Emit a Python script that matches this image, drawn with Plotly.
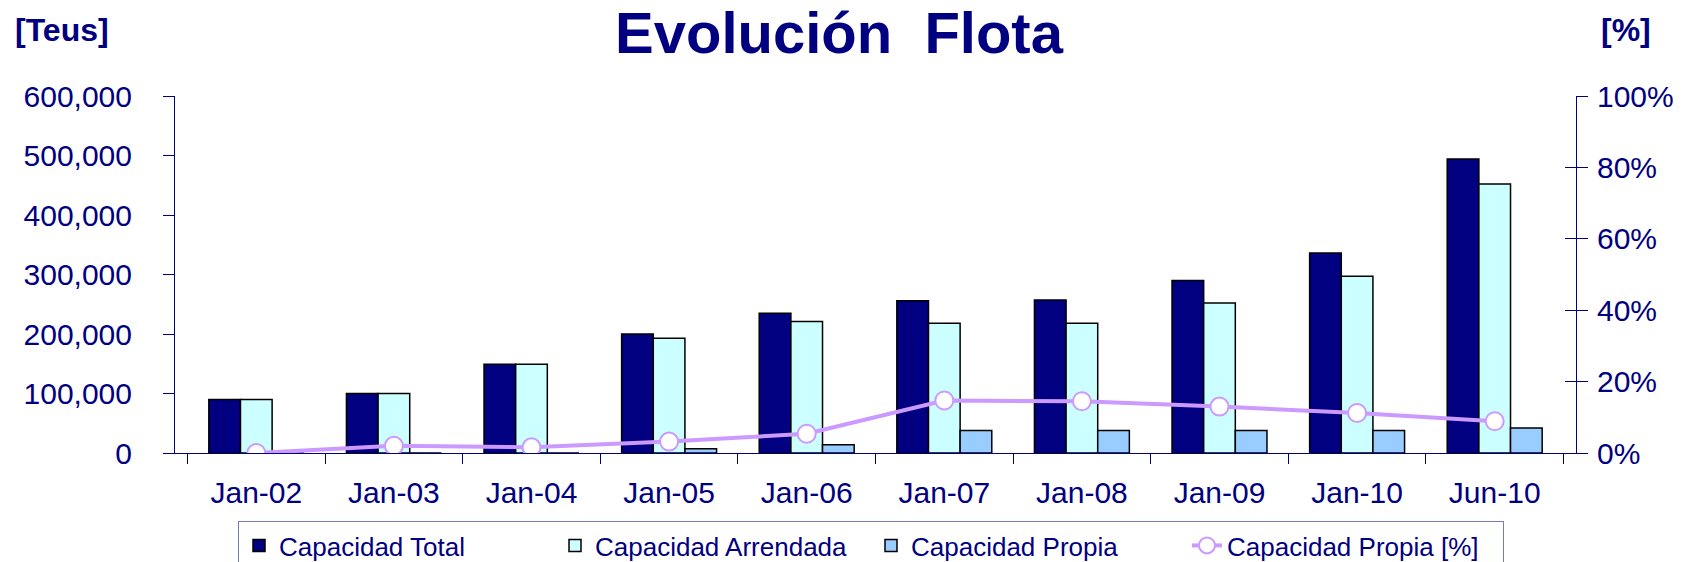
import plotly.graph_objects as go

categories = ["Jan-02", "Jan-03", "Jan-04", "Jan-05", "Jan-06", "Jan-07", "Jan-08", "Jan-09", "Jan-10", "Jun-10"]
cap_total = [90000, 100000, 149000, 200000, 235000, 256000, 257000, 290000, 336000, 494000]
cap_arrendada = [90000, 100000, 149000, 193000, 221000, 218000, 218000, 252000, 297000, 452000]
cap_propia = [0, 0, 0, 7000, 14000, 38000, 38000, 38000, 38000, 42000]
cap_propia_pct = [0.0, 0.02, 0.016, 0.032, 0.054, 0.147, 0.145, 0.13, 0.112, 0.089]

NAVY = "#000080"
FONT = "Liberation Sans, Arial, sans-serif"
W, H = 1686, 562
L, R, T, B = 167, 118, 88, 116.5
PH = H - T - B
PW = W - L - R

fig = go.Figure()
fig.add_trace(go.Bar(x=categories, y=cap_total, name="Capacidad Total",
                     marker=dict(color="#000080", line=dict(color="black", width=1.5))))
fig.add_trace(go.Bar(x=categories, y=cap_arrendada, name="Capacidad Arrendada",
                     marker=dict(color="#CCFFFF", line=dict(color="black", width=1.5))))
fig.add_trace(go.Bar(x=categories, y=cap_propia, name="Capacidad Propia",
                     marker=dict(color="#99CCFF", line=dict(color="black", width=1.5))))
fig.add_trace(go.Scatter(x=categories, y=cap_propia_pct, name="Capacidad Propia [%]", yaxis="y2",
                         mode="lines+markers",
                         line=dict(color="#CC99FF", width=4),
                         marker=dict(symbol="circle", size=18, color="white",
                                     line=dict(color="#CC99FF", width=2))))
# invisible helper so the crossing-tick axis renders
fig.add_trace(go.Scatter(x=[categories[0]], y=[None], yaxis="y3", showlegend=False, hoverinfo="skip"))

fig.update_layout(
    width=W, height=H,
    margin=dict(l=L, r=R, t=T, b=B, autoexpand=False),
    paper_bgcolor="white", plot_bgcolor="white",
    font=dict(family=FONT, color=NAVY),
    barmode="group", bargap=0.31, bargroupgap=0,
    title=dict(text="<b>Evolución\u00a0 Flota</b>", x=831 / W, xanchor="center",
               y=1, yanchor="top", yref="container", pad=dict(t=4),
               font=dict(size=58, color=NAVY, family=FONT)),
    xaxis=dict(type="category", showline=True, linecolor=NAVY, linewidth=1,
               ticks="outside", ticklen=10, tickcolor=NAVY, tickson="boundaries",
               tickfont=dict(size=30, color=NAVY), ticklabelstandoff=13,
               showgrid=False, zeroline=False),
    yaxis=dict(range=[0, 600000], dtick=100000, tickformat=",", showline=True,
               linecolor=NAVY, linewidth=1, ticks="outside", ticklen=11, tickcolor=NAVY,
               tickfont=dict(size=30, color=NAVY), ticklabelstandoff=25,
               showgrid=False, zeroline=False),
    yaxis2=dict(range=[0, 1], dtick=0.2, tickformat=".0%", overlaying="y", side="right",
                anchor="x", showline=True, linecolor=NAVY, linewidth=1,
                ticks="outside", ticklen=11, tickcolor=NAVY,
                tickfont=dict(size=30, color=NAVY), ticklabelstandoff=3,
                showgrid=False, zeroline=False),
    yaxis3=dict(range=[0, 1], dtick=0.2, overlaying="y", side="right", anchor="x",
                showline=False, ticks="inside", ticklen=11, tickcolor=NAVY,
                showticklabels=False, showgrid=False, zeroline=False),
    legend=dict(orientation="h", xref="container", x=230 / W, xanchor="left",
                yref="container", y=1 - 513 / H, yanchor="top",
                bordercolor="#7878BC", borderwidth=1,
                font=dict(size=26, color=NAVY, family=FONT),
                entrywidth=271, traceorder="normal"),
    annotations=[
        dict(text="<b>[Teus]</b>", xref="paper", yref="paper", x=-162 / PW, xanchor="left",
             y=1 + (T - 22) / PH, yanchor="middle", showarrow=False,
             font=dict(size=32, color=NAVY, family=FONT)),
        dict(text="<b>[%]</b>", xref="paper", yref="paper", x=1 + (1618 - (W - R)) / PW,
             xanchor="center", y=1 + (T - 22) / PH, yanchor="middle", showarrow=False,
             font=dict(size=32, color=NAVY, family=FONT)),
    ],
)

fig.write_html("out.html")
